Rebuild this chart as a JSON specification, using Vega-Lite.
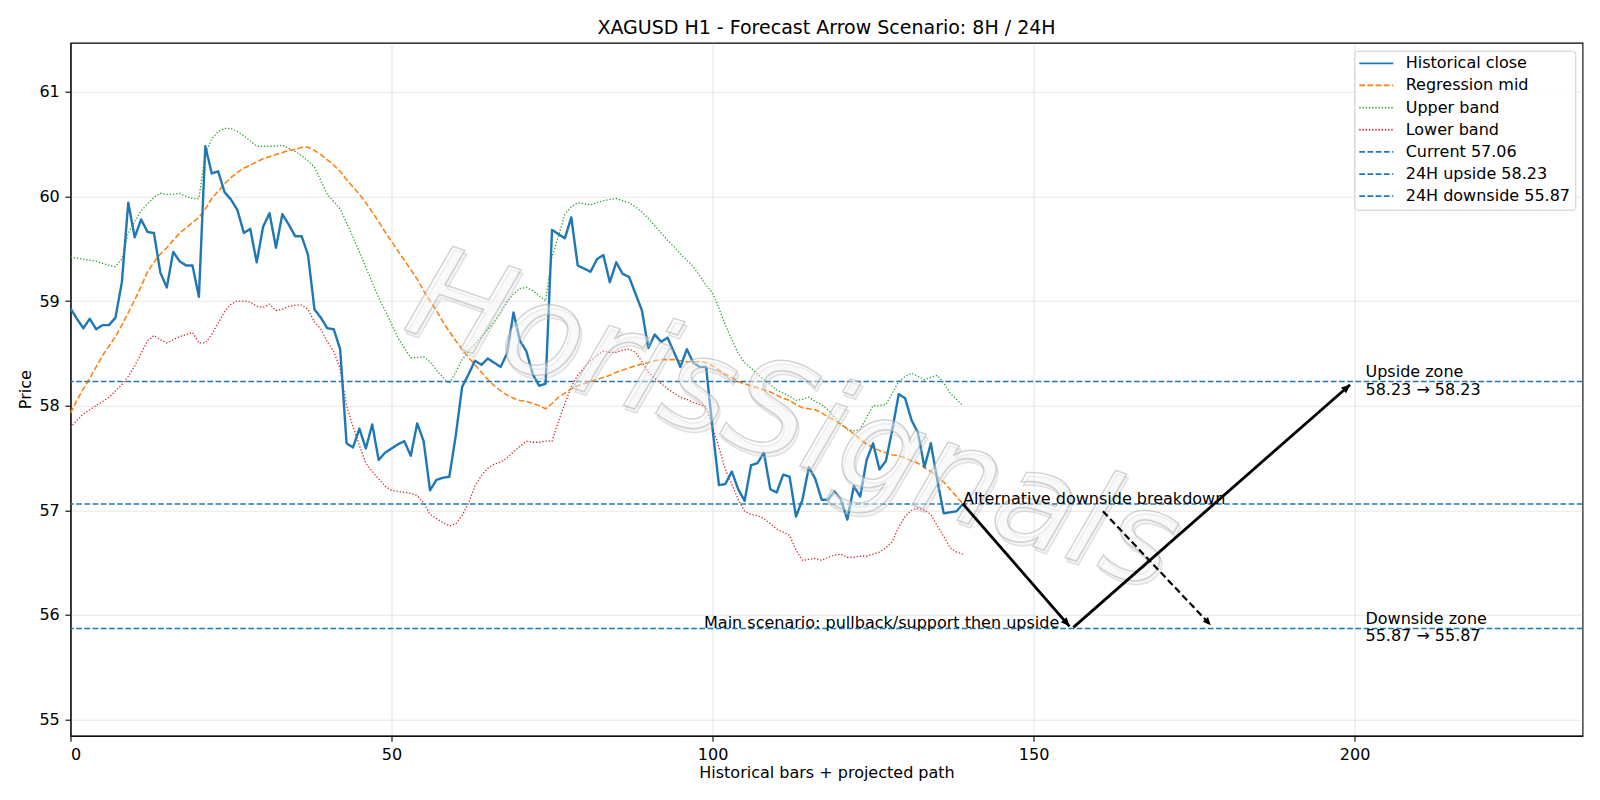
{
  "$schema": "https://vega.github.io/schema/vega-lite/v6.json",
  "width": 1512,
  "height": 693,
  "autosize": {"type": "none"},
  "padding": {"left": 70.5, "top": 42.7, "right": 17, "bottom": 64.3},
  "background": "white",
  "title": {
    "text": "XAGUSD H1 - Forecast Arrow Scenario: 8H / 24H",
    "font": "DejaVu Sans",
    "fontSize": 19,
    "fontWeight": "normal",
    "color": "black",
    "anchor": "middle",
    "frame": "group",
    "baseline": "alphabetic",
    "offset": -10.5
  },
  "config": {
    "font": "DejaVu Sans",
    "view": {"stroke": "black", "strokeWidth": 1.1},
    "axis": {
      "domainColor": "black",
      "domainWidth": 1.1,
      "tickColor": "black",
      "tickWidth": 1.1,
      "tickSize": 5.6,
      "labelPadding": 5.6,
      "labelFont": "DejaVu Sans",
      "labelFontSize": 16,
      "labelColor": "black",
      "titleFont": "DejaVu Sans",
      "titleFontSize": 16,
      "titleFontWeight": "normal",
      "titleColor": "black",
      "grid": true,
      "gridColor": "#b0b0b0",
      "gridOpacity": 0.3,
      "gridWidth": 1.1
    },
    "legend": {
      "orient": "none",
      "legendX": 1283.8,
      "legendY": 8,
      "title": null,
      "symbolType": "M-1.52,0L5.28,0",
      "symbolSize": 100,
      "symbolStrokeWidth": 1.8,
      "labelFont": "DejaVu Sans",
      "labelFontSize": 16,
      "labelColor": "black",
      "labelOffset": 30.8,
      "labelLimit": 400,
      "rowPadding": 6.15,
      "padding": 4.6,
      "strokeColor": "#cccccc",
      "fillColor": "rgba(255,255,255,0.8)",
      "cornerRadius": 3
    }
  },
  "datasets": {
    "bars": [
      {"bar":0,"close":58.93,"mid":57.93,"upper":59.42,"lower":57.79},
      {"bar":1,"close":58.83,"mid":58.05,"upper":59.41,"lower":57.86},
      {"bar":2,"close":58.74,"mid":58.16,"upper":59.40,"lower":57.92},
      {"bar":3,"close":58.83,"mid":58.26,"upper":59.39,"lower":57.96},
      {"bar":4,"close":58.73,"mid":58.37,"upper":59.38,"lower":58.00},
      {"bar":5,"close":58.77,"mid":58.48,"upper":59.36,"lower":58.04},
      {"bar":6,"close":58.77,"mid":58.57,"upper":59.34,"lower":58.08},
      {"bar":7,"close":58.84,"mid":58.66,"upper":59.33,"lower":58.14},
      {"bar":8,"close":59.18,"mid":58.77,"upper":59.40,"lower":58.20},
      {"bar":9,"close":59.94,"mid":58.89,"upper":59.65,"lower":58.28},
      {"bar":10,"close":59.61,"mid":59.01,"upper":59.76,"lower":58.38},
      {"bar":11,"close":59.78,"mid":59.14,"upper":59.86,"lower":58.50},
      {"bar":12,"close":59.66,"mid":59.28,"upper":59.93,"lower":58.62},
      {"bar":13,"close":59.65,"mid":59.37,"upper":59.99,"lower":58.67},
      {"bar":14,"close":59.27,"mid":59.45,"upper":60.03,"lower":58.63},
      {"bar":15,"close":59.13,"mid":59.51,"upper":60.02,"lower":58.60},
      {"bar":16,"close":59.47,"mid":59.58,"upper":60.02,"lower":58.63},
      {"bar":17,"close":59.38,"mid":59.65,"upper":60.03,"lower":58.66},
      {"bar":18,"close":59.34,"mid":59.70,"upper":60.00,"lower":58.68},
      {"bar":19,"close":59.34,"mid":59.75,"upper":59.98,"lower":58.70},
      {"bar":20,"close":59.04,"mid":59.80,"upper":59.98,"lower":58.60},
      {"bar":21,"close":60.48,"mid":59.88,"upper":60.41,"lower":58.60},
      {"bar":22,"close":60.22,"mid":59.98,"upper":60.55,"lower":58.68},
      {"bar":23,"close":60.24,"mid":60.05,"upper":60.62,"lower":58.79},
      {"bar":24,"close":60.04,"mid":60.12,"upper":60.65,"lower":58.90},
      {"bar":25,"close":59.97,"mid":60.18,"upper":60.65,"lower":58.97},
      {"bar":26,"close":59.87,"mid":60.23,"upper":60.62,"lower":59.00},
      {"bar":27,"close":59.65,"mid":60.27,"upper":60.58,"lower":59.00},
      {"bar":28,"close":59.69,"mid":60.30,"upper":60.53,"lower":58.99},
      {"bar":29,"close":59.37,"mid":60.33,"upper":60.48,"lower":58.95},
      {"bar":30,"close":59.71,"mid":60.36,"upper":60.48,"lower":58.94},
      {"bar":31,"close":59.84,"mid":60.38,"upper":60.48,"lower":58.97},
      {"bar":32,"close":59.51,"mid":60.40,"upper":60.48,"lower":58.91},
      {"bar":33,"close":59.83,"mid":60.42,"upper":60.49,"lower":58.92},
      {"bar":34,"close":59.73,"mid":60.44,"upper":60.46,"lower":58.95},
      {"bar":35,"close":59.62,"mid":60.45,"upper":60.43,"lower":58.96},
      {"bar":36,"close":59.62,"mid":60.47,"upper":60.39,"lower":58.96},
      {"bar":37,"close":59.44,"mid":60.47,"upper":60.34,"lower":58.92},
      {"bar":38,"close":58.92,"mid":60.44,"upper":60.28,"lower":58.80},
      {"bar":39,"close":58.84,"mid":60.40,"upper":60.15,"lower":58.73},
      {"bar":40,"close":58.74,"mid":60.35,"upper":60.02,"lower":58.61},
      {"bar":41,"close":58.73,"mid":60.30,"upper":59.95,"lower":58.52},
      {"bar":42,"close":58.54,"mid":60.24,"upper":59.88,"lower":58.35},
      {"bar":43,"close":57.64,"mid":60.16,"upper":59.75,"lower":58.00},
      {"bar":44,"close":57.60,"mid":60.09,"upper":59.61,"lower":57.80},
      {"bar":45,"close":57.78,"mid":60.02,"upper":59.47,"lower":57.62},
      {"bar":46,"close":57.59,"mid":59.94,"upper":59.32,"lower":57.45},
      {"bar":47,"close":57.82,"mid":59.85,"upper":59.18,"lower":57.37},
      {"bar":48,"close":57.48,"mid":59.76,"upper":59.03,"lower":57.30},
      {"bar":49,"close":57.55,"mid":59.66,"upper":58.91,"lower":57.23},
      {"bar":50,"close":57.59,"mid":59.57,"upper":58.78,"lower":57.19},
      {"bar":51,"close":57.63,"mid":59.48,"upper":58.65,"lower":57.18},
      {"bar":52,"close":57.66,"mid":59.39,"upper":58.55,"lower":57.17},
      {"bar":53,"close":57.52,"mid":59.30,"upper":58.46,"lower":57.16},
      {"bar":54,"close":57.83,"mid":59.21,"upper":58.46,"lower":57.14},
      {"bar":55,"close":57.66,"mid":59.10,"upper":58.47,"lower":57.07},
      {"bar":56,"close":57.19,"mid":59.00,"upper":58.42,"lower":56.96},
      {"bar":57,"close":57.29,"mid":58.91,"upper":58.34,"lower":56.92},
      {"bar":58,"close":57.31,"mid":58.80,"upper":58.27,"lower":56.88},
      {"bar":59,"close":57.32,"mid":58.71,"upper":58.21,"lower":56.85},
      {"bar":60,"close":57.71,"mid":58.62,"upper":58.32,"lower":56.87},
      {"bar":61,"close":58.18,"mid":58.54,"upper":58.44,"lower":56.95},
      {"bar":62,"close":58.30,"mid":58.46,"upper":58.52,"lower":57.07},
      {"bar":63,"close":58.43,"mid":58.39,"upper":58.59,"lower":57.23},
      {"bar":64,"close":58.39,"mid":58.32,"upper":58.66,"lower":57.33},
      {"bar":65,"close":58.45,"mid":58.25,"upper":58.73,"lower":57.40},
      {"bar":66,"close":58.41,"mid":58.19,"upper":58.80,"lower":57.44},
      {"bar":67,"close":58.37,"mid":58.14,"upper":58.89,"lower":57.46},
      {"bar":68,"close":58.50,"mid":58.10,"upper":58.99,"lower":57.50},
      {"bar":69,"close":58.89,"mid":58.07,"upper":59.07,"lower":57.56},
      {"bar":70,"close":58.62,"mid":58.05,"upper":59.12,"lower":57.61},
      {"bar":71,"close":58.52,"mid":58.04,"upper":59.13,"lower":57.66},
      {"bar":72,"close":58.30,"mid":58.02,"upper":59.10,"lower":57.65},
      {"bar":73,"close":58.19,"mid":58.00,"upper":59.05,"lower":57.65},
      {"bar":74,"close":58.21,"mid":57.97,"upper":59.00,"lower":57.66},
      {"bar":75,"close":59.68,"mid":58.02,"upper":59.42,"lower":57.66},
      {"bar":76,"close":59.64,"mid":58.08,"upper":59.62,"lower":57.85},
      {"bar":77,"close":59.60,"mid":58.12,"upper":59.83,"lower":58.02},
      {"bar":78,"close":59.80,"mid":58.16,"upper":59.90,"lower":58.18},
      {"bar":79,"close":59.34,"mid":58.19,"upper":59.94,"lower":58.29},
      {"bar":80,"close":59.31,"mid":58.21,"upper":59.93,"lower":58.36},
      {"bar":81,"close":59.28,"mid":58.23,"upper":59.92,"lower":58.43},
      {"bar":82,"close":59.40,"mid":58.25,"upper":59.94,"lower":58.48},
      {"bar":83,"close":59.44,"mid":58.27,"upper":59.96,"lower":58.52},
      {"bar":84,"close":59.18,"mid":58.29,"upper":59.97,"lower":58.51},
      {"bar":85,"close":59.37,"mid":58.32,"upper":59.98,"lower":58.51},
      {"bar":86,"close":59.26,"mid":58.34,"upper":59.96,"lower":58.53},
      {"bar":87,"close":59.23,"mid":58.36,"upper":59.94,"lower":58.54},
      {"bar":88,"close":59.07,"mid":58.38,"upper":59.90,"lower":58.51},
      {"bar":89,"close":58.91,"mid":58.40,"upper":59.85,"lower":58.42},
      {"bar":90,"close":58.55,"mid":58.41,"upper":59.79,"lower":58.32},
      {"bar":91,"close":58.68,"mid":58.43,"upper":59.72,"lower":58.26},
      {"bar":92,"close":58.61,"mid":58.44,"upper":59.65,"lower":58.21},
      {"bar":93,"close":58.65,"mid":58.44,"upper":59.58,"lower":58.16},
      {"bar":94,"close":58.51,"mid":58.44,"upper":59.52,"lower":58.12},
      {"bar":95,"close":58.37,"mid":58.43,"upper":59.45,"lower":58.08},
      {"bar":96,"close":58.54,"mid":58.42,"upper":59.39,"lower":58.06},
      {"bar":97,"close":58.41,"mid":58.42,"upper":59.33,"lower":58.03},
      {"bar":98,"close":58.37,"mid":58.42,"upper":59.24,"lower":58.01},
      {"bar":99,"close":58.37,"mid":58.41,"upper":59.15,"lower":57.99},
      {"bar":100,"close":57.78,"mid":58.38,"upper":59.08,"lower":57.80},
      {"bar":101,"close":57.24,"mid":58.34,"upper":58.93,"lower":57.60},
      {"bar":102,"close":57.25,"mid":58.30,"upper":58.77,"lower":57.39},
      {"bar":103,"close":57.37,"mid":58.27,"upper":58.63,"lower":57.25},
      {"bar":104,"close":57.20,"mid":58.23,"upper":58.50,"lower":57.10},
      {"bar":105,"close":57.09,"mid":58.21,"upper":58.41,"lower":56.99},
      {"bar":106,"close":57.43,"mid":58.19,"upper":58.36,"lower":56.96},
      {"bar":107,"close":57.45,"mid":58.17,"upper":58.30,"lower":56.95},
      {"bar":108,"close":57.55,"mid":58.15,"upper":58.25,"lower":56.92},
      {"bar":109,"close":57.20,"mid":58.13,"upper":58.20,"lower":56.87},
      {"bar":110,"close":57.17,"mid":58.10,"upper":58.15,"lower":56.82},
      {"bar":111,"close":57.34,"mid":58.07,"upper":58.12,"lower":56.79},
      {"bar":112,"close":57.32,"mid":58.05,"upper":58.09,"lower":56.76},
      {"bar":113,"close":56.94,"mid":58.01,"upper":58.05,"lower":56.62},
      {"bar":114,"close":57.10,"mid":57.98,"upper":58.06,"lower":56.52},
      {"bar":115,"close":57.41,"mid":57.97,"upper":58.08,"lower":56.53},
      {"bar":116,"close":57.30,"mid":57.96,"upper":58.04,"lower":56.54},
      {"bar":117,"close":57.10,"mid":57.93,"upper":58.01,"lower":56.52},
      {"bar":118,"close":57.10,"mid":57.89,"upper":57.96,"lower":56.55},
      {"bar":119,"close":57.18,"mid":57.86,"upper":57.89,"lower":56.57},
      {"bar":120,"close":57.10,"mid":57.82,"upper":57.82,"lower":56.58},
      {"bar":121,"close":56.91,"mid":57.78,"upper":57.77,"lower":56.55},
      {"bar":122,"close":57.23,"mid":57.73,"upper":57.76,"lower":56.55},
      {"bar":123,"close":57.13,"mid":57.68,"upper":57.77,"lower":56.56},
      {"bar":124,"close":57.48,"mid":57.63,"upper":57.89,"lower":56.56},
      {"bar":125,"close":57.64,"mid":57.60,"upper":58.00,"lower":56.58},
      {"bar":126,"close":57.39,"mid":57.57,"upper":58.00,"lower":56.60},
      {"bar":127,"close":57.47,"mid":57.55,"upper":58.01,"lower":56.64},
      {"bar":128,"close":57.77,"mid":57.53,"upper":58.12,"lower":56.70},
      {"bar":129,"close":58.11,"mid":57.52,"upper":58.23,"lower":56.84},
      {"bar":130,"close":58.07,"mid":57.50,"upper":58.28,"lower":56.94},
      {"bar":131,"close":57.86,"mid":57.47,"upper":58.31,"lower":57.00},
      {"bar":132,"close":57.74,"mid":57.45,"upper":58.28,"lower":57.02},
      {"bar":133,"close":57.41,"mid":57.41,"upper":58.25,"lower":57.00},
      {"bar":134,"close":57.64,"mid":57.37,"upper":58.27,"lower":56.96},
      {"bar":135,"close":57.29,"mid":57.32,"upper":58.29,"lower":56.85},
      {"bar":136,"close":56.97,"mid":57.27,"upper":58.22,"lower":56.75},
      {"bar":137,"close":56.98,"mid":57.20,"upper":58.12,"lower":56.64},
      {"bar":138,"close":56.99,"mid":57.13,"upper":58.06,"lower":56.60},
      {"bar":139,"close":57.06,"mid":57.06,"upper":58.00,"lower":56.58}
    ],
    "levels": [
      {"label": "Current 57.06", "price": 57.06},
      {"label": "24H upside 58.23", "price": 58.23},
      {"label": "24H downside 55.87", "price": 55.87}
    ],
    "arrows": [
      {"leg": "pullback", "x": 139, "y": 57.06, "x2": 155.6, "y2": 55.89},
      {"leg": "upside", "x": 156.2, "y": 55.88, "x2": 199.3, "y2": 58.2},
      {"leg": "breakdown", "x": 160.8, "y": 56.99, "x2": 177.6, "y2": 55.9}
    ],
    "notes": [
      {"note": "Alternative downside breakdown", "x": 139, "y": 57.06, "side": "left"},
      {"note": "Main scenario: pullback/support then upside", "x": 154, "y": 55.87, "side": "right"}
    ],
    "zones": [
      {"zone": "Upside zone\n58.23 → 58.23", "x": 201.7, "y": 58.23},
      {"zone": "Downside zone\n55.87 → 55.87", "x": 201.7, "y": 55.87}
    ],
    "watermark": [
      {"brand": "HorisSignals", "x": 112.5, "y": 57.84}
    ]
  },
  "layer": [
    {
      "data": {"name": "bars"},
      "mark": {"type": "line", "strokeWidth": 1.3},
      "encoding": {
        "x": {"field": "bar", "type": "quantitative", "title": "Historical bars + projected path",
              "scale": {"domain": [0, 235.5], "nice": false, "zero": false},
              "axis": {"values": [0, 50, 100, 150, 200], "format": "d", "titlePadding": 2}},
        "y": {"field": "upper", "type": "quantitative", "title": "Price",
              "scale": {"domain": [54.844, 61.47], "nice": false, "zero": false},
              "axis": {"values": [55, 56, 57, 58, 59, 60, 61], "format": "d", "titlePadding": 5}},
        "color": {"datum": "Upper band", "type": "nominal", "title": null,
                  "scale": {"domain": ["Historical close", "Regression mid", "Upper band", "Lower band", "Current 57.06", "24H upside 58.23", "24H downside 55.87"],
                            "range": ["#1f77b4", "#ff7f0e", "#2ca02c", "#d62728", "#1f77b4", "#1f77b4", "#1f77b4"]}},
        "strokeDash": {"datum": "Upper band", "type": "nominal", "title": null,
                       "scale": {"domain": ["Historical close", "Regression mid", "Upper band", "Lower band", "Current 57.06", "24H upside 58.23", "24H downside 55.87"],
                                 "range": [[1, 0], [5.7, 2.5], [1.3, 1.9], [1.3, 1.9], [5.7, 2.5], [5.7, 2.5], [5.7, 2.5]]}}
      }
    },
    {
      "data": {"name": "bars"},
      "mark": {"type": "line", "strokeWidth": 1.3},
      "encoding": {
        "x": {"field": "bar", "type": "quantitative", "title": "Historical bars + projected path"},
        "y": {"field": "lower", "type": "quantitative", "title": "Price"},
        "color": {"datum": "Lower band", "type": "nominal", "title": null},
        "strokeDash": {"datum": "Lower band", "type": "nominal", "title": null}
      }
    },
    {
      "data": {"name": "bars"},
      "mark": {"type": "line", "strokeWidth": 1.55},
      "encoding": {
        "x": {"field": "bar", "type": "quantitative", "title": "Historical bars + projected path"},
        "y": {"field": "mid", "type": "quantitative", "title": "Price"},
        "color": {"datum": "Regression mid", "type": "nominal", "title": null},
        "strokeDash": {"datum": "Regression mid", "type": "nominal", "title": null}
      }
    },
    {
      "data": {"name": "bars"},
      "mark": {"type": "line", "strokeWidth": 2.4, "strokeJoin": "round"},
      "encoding": {
        "x": {"field": "bar", "type": "quantitative", "title": "Historical bars + projected path"},
        "y": {"field": "close", "type": "quantitative", "title": "Price"},
        "color": {"datum": "Historical close", "type": "nominal", "title": null},
        "strokeDash": {"datum": "Historical close", "type": "nominal", "title": null}
      }
    },
    {
      "data": {"name": "levels"},
      "mark": {"type": "rule", "strokeWidth": 1.5},
      "encoding": {
        "y": {"field": "price", "type": "quantitative", "title": "Price"},
        "color": {"field": "label", "type": "nominal", "title": null},
        "strokeDash": {"field": "label", "type": "nominal", "title": null}
      }
    },
    {
      "data": {"name": "watermark"},
      "mark": {"type": "text", "align": "center", "baseline": "middle", "angle": 19, "font": "DejaVu Sans", "fontStyle": "italic", "fontSize": 130, "dx": 3, "dy": 3, "fill": "#808080", "fillOpacity": 0.08, "stroke": "#c4c4c4", "strokeWidth": 1.5, "strokeOpacity": 0.45},
      "encoding": {
        "x": {"field": "x", "type": "quantitative", "title": "Historical bars + projected path"},
        "y": {"field": "y", "type": "quantitative", "title": "Price"},
        "text": {"field": "brand"}
      }
    },
    {
      "data": {"name": "watermark"},
      "mark": {"type": "text", "align": "center", "baseline": "middle", "angle": 19, "font": "DejaVu Sans", "fontStyle": "italic", "fontSize": 130, "fill": "white", "fillOpacity": 0.4, "stroke": "#a8a8a8", "strokeWidth": 1.5, "strokeOpacity": 0.5},
      "encoding": {
        "x": {"field": "x", "type": "quantitative", "title": "Historical bars + projected path"},
        "y": {"field": "y", "type": "quantitative", "title": "Price"},
        "text": {"field": "brand"}
      }
    },
    {
      "data": {"name": "arrows"},
      "transform": [{"filter": "datum.leg !== 'breakdown'"}],
      "mark": {"type": "rule", "color": "black", "strokeWidth": 2.8},
      "encoding": {
        "x": {"field": "x", "type": "quantitative", "title": "Historical bars + projected path"},
        "y": {"field": "y", "type": "quantitative", "title": "Price"},
        "x2": {"field": "x2"},
        "y2": {"field": "y2"}
      }
    },
    {
      "data": {"name": "arrows"},
      "transform": [{"filter": "datum.leg === 'breakdown'"}],
      "mark": {"type": "rule", "color": "black", "strokeWidth": 2.2, "strokeDash": [7, 3.5]},
      "encoding": {
        "x": {"field": "x", "type": "quantitative", "title": "Historical bars + projected path"},
        "y": {"field": "y", "type": "quantitative", "title": "Price"},
        "x2": {"field": "x2"},
        "y2": {"field": "y2"}
      }
    },
    {
      "data": {"name": "arrows"},
      "transform": [{"filter": "datum.leg === 'pullback'"}],
      "mark": {"type": "point", "shape": "M0,0L-1,-0.45L-1,0.45Z", "filled": true, "color": "black", "opacity": 1, "size": 300, "angle": 48.8},
      "encoding": {
        "x": {"field": "x2", "type": "quantitative", "title": "Historical bars + projected path"},
        "y": {"field": "y2", "type": "quantitative", "title": "Price"}
      }
    },
    {
      "data": {"name": "arrows"},
      "transform": [{"filter": "datum.leg === 'upside'"}],
      "mark": {"type": "point", "shape": "M0,0L-1,-0.45L-1,0.45Z", "filled": true, "color": "black", "opacity": 1, "size": 300, "angle": -41.2},
      "encoding": {
        "x": {"field": "x2", "type": "quantitative", "title": "Historical bars + projected path"},
        "y": {"field": "y2", "type": "quantitative", "title": "Price"}
      }
    },
    {
      "data": {"name": "arrows"},
      "transform": [{"filter": "datum.leg === 'breakdown'"}],
      "mark": {"type": "point", "shape": "M0,0L-1,-0.45L-1,0.45Z", "filled": true, "color": "black", "opacity": 1, "size": 250, "angle": 47.3},
      "encoding": {
        "x": {"field": "x2", "type": "quantitative", "title": "Historical bars + projected path"},
        "y": {"field": "y2", "type": "quantitative", "title": "Price"}
      }
    },
    {
      "data": {"name": "notes"},
      "transform": [{"filter": "datum.side === 'left'"}],
      "mark": {"type": "text", "align": "left", "baseline": "alphabetic", "font": "DejaVu Sans", "fontSize": 16, "color": "black"},
      "encoding": {
        "x": {"field": "x", "type": "quantitative", "title": "Historical bars + projected path"},
        "y": {"field": "y", "type": "quantitative", "title": "Price"},
        "text": {"field": "note"}
      }
    },
    {
      "data": {"name": "notes"},
      "transform": [{"filter": "datum.side === 'right'"}],
      "mark": {"type": "text", "align": "right", "baseline": "alphabetic", "font": "DejaVu Sans", "fontSize": 16, "color": "black"},
      "encoding": {
        "x": {"field": "x", "type": "quantitative", "title": "Historical bars + projected path"},
        "y": {"field": "y", "type": "quantitative", "title": "Price"},
        "text": {"field": "note"}
      }
    },
    {
      "data": {"name": "zones"},
      "mark": {"type": "text", "align": "left", "baseline": "middle", "lineBreak": "\n", "lineHeight": 17.6, "dy": -9.5, "font": "DejaVu Sans", "fontSize": 16, "color": "black"},
      "encoding": {
        "x": {"field": "x", "type": "quantitative", "title": "Historical bars + projected path"},
        "y": {"field": "y", "type": "quantitative", "title": "Price"},
        "text": {"field": "zone"}
      }
    }
  ]
}
